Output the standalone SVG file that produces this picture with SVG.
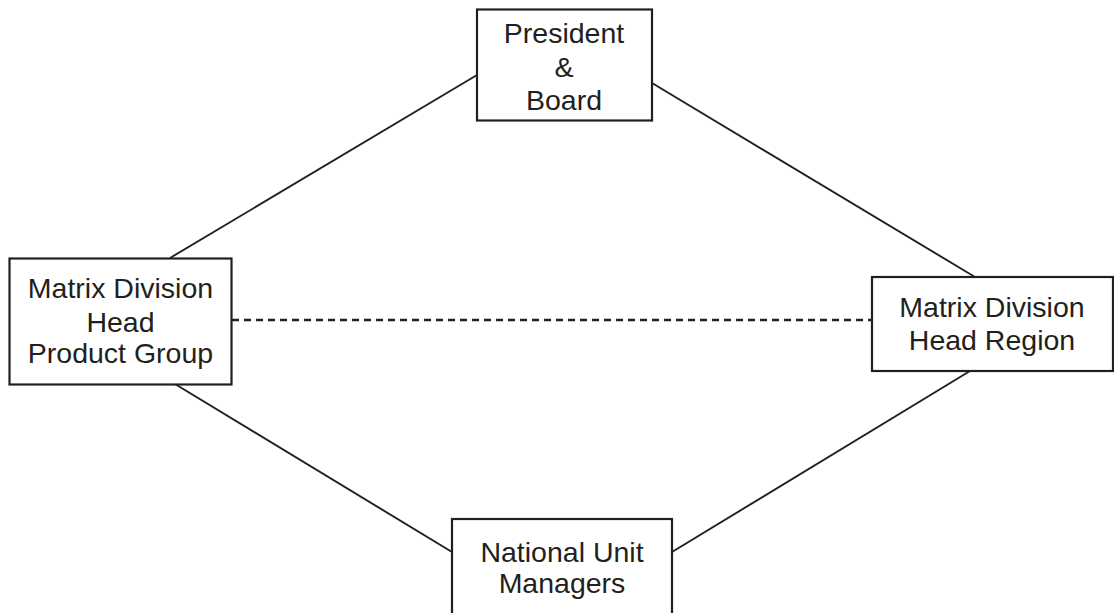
<svg xmlns="http://www.w3.org/2000/svg" width="1114" height="613" viewBox="0 0 1114 613">
<style>
.box{fill:#fff;stroke:#231f20;stroke-width:2.2}
.t{font-family:"Liberation Sans",Arial,sans-serif;font-size:28.5px;fill:#231f20;text-anchor:middle}
.ln{stroke:#231f20;stroke-width:1.9;fill:none}
.dash{stroke:#231f20;stroke-width:2.6;stroke-dasharray:7 5;fill:none}
</style>
<rect width="1114" height="613" fill="#fff"/>
<g id="connectors">
<line class="ln" x1="477" y1="75" x2="170" y2="258"/>
<line class="ln" x1="652" y1="83" x2="975" y2="277"/>
<line class="ln" x1="175" y1="384" x2="452" y2="552"/>
<line class="ln" x1="672" y1="552" x2="970" y2="371"/>
<line class="dash" x1="232" y1="320" x2="872" y2="320"/>
</g>
<g id="president">
<rect class="box" x="477" y="9.5" width="175" height="111"/>
<text class="t" x="564" y="43">President</text>
<text class="t" x="564" y="77">&amp;</text>
<text class="t" x="564" y="110">Board</text>
</g>
<g id="product">
<rect class="box" x="9.5" y="258.5" width="222" height="126"/>
<text class="t" x="120.5" y="298">Matrix Division</text>
<text class="t" x="120.5" y="331.5">Head</text>
<text class="t" x="120.5" y="363">Product Group</text>
</g>
<g id="region">
<rect class="box" x="872" y="277" width="241" height="94"/>
<text class="t" x="992" y="316.5">Matrix Division</text>
<text class="t" x="992" y="350">Head Region</text>
</g>
<g id="national">
<rect class="box" x="452" y="519" width="220" height="110"/>
<text class="t" x="562" y="561.5">National Unit</text>
<text class="t" x="562" y="593">Managers</text>
</g>
</svg>
